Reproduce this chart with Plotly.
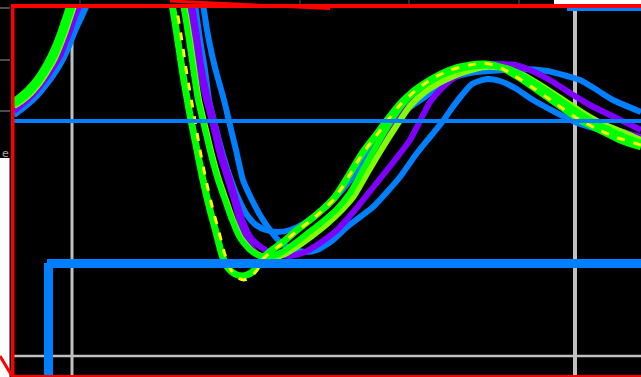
import plotly.graph_objects as go

# ---- series data (x in chart units, y in chart units; y axis runs downward) ----
green1_x = [13,20,28,36,44,50,56,61,65,69,73, 90,120,150,166,
            172,177,183,190,197,203,210,216,222,228,235,243,251,257,263,272,283,297,310,322,
            335,349,363,376,388,400,415,430,450,470,485,500,520,540,560,580,600,620,641]
green1_y = [102,97,90,81,69,58,45,32,20,8,-5, -80,-130,-80,-10,
            5,35,75,115,150,180,210,232,255,268,274,276,273,267,258,250,242,230,220,210,
            197,175,152,135,119,104,90,80,70,65,64,67,78,92,106,120,130,140,147]

yellow_x = [150,170, 176,181,187,194,200,206,213,219,225,231,238,244,251,257,263,272,283,297,310,322,
            335,349,363,376,388,400,415,430,450,470,483,497,515,535,555,575,595,615,641]
yellow_y = [-100,-20, 5,35,75,115,150,180,210,232,255,270,278,280,277,270,259,251,243,231,221,211,
            198,176,153,136,120,105,91,80,70,65,63,66,76,89,103,117,128,137,145]

green2_x = [13,22,30,38,46,53,59,64,68,72,76, 100,130,160,178,
            183,189,194,198,205,211,218,225,232,240,250,260,270,282,295,308,322,336,350,364,
            378,391,403,418,436,456,476,495,512,530,550,570,590,610,625,641]
green2_y = [105,99,92,83,71,59,45,32,20,8,-5, -90,-130,-80,-10,
            5,40,75,100,130,155,180,200,220,238,250,256,257,252,243,233,222,210,193,168,
            143,121,104,90,78,70,66,66,70,80,93,107,120,130,137,143]

lime_x = [14,23,31,39,47,54,60,65,69,73,77, 100,130,160,179,
          184,190,195,199,206,212,219,226,233,241,251,261,272,285,298,312,326,340,354,368,
          383,397,410,425,445,465,485,505,525,545,565,585,605,625,641]
lime_y = [106,100,93,84,72,60,46,33,21,9,-4, -90,-130,-80,-10,
          5,40,75,100,130,155,180,200,220,238,250,256,258,254,246,236,225,212,196,172,
          147,125,106,92,80,72,67,68,76,88,101,114,125,133,140]

purple1_x = [13,25,35,45,53,59,65,70,74,77,80, 110,140,170,186,
             190,194,199,205,212,220,228,234,240,247,255,263,272,283,297,312,326,340,354,368,
             382,395,405,420,440,460,480,500,520,540,560,580,600,620,641]
purple1_y = [110,100,90,77,65,55,40,27,15,8,-3, -100,-130,-90,-10,
             5,30,65,95,121,155,180,200,222,240,252,258,258,253,244,234,223,210,193,170,
             145,125,110,95,80,70,66,65,72,88,102,113,123,131,137]

purple2_x = [14,26,36,46,54,60,66,71,75,78,81, 110,140,170,188,
             192,196,201,207,214,222,230,236,243,251,262,275,290,305,320,337,355,375,395,410,
             420,430,442,457,475,495,515,530,550,570,590,610,625,641]
purple2_y = [111,101,91,78,66,56,41,28,16,9,-2, -100,-130,-90,-10,
             5,30,65,95,121,155,180,200,222,238,248,254,256,252,243,230,210,185,160,140,
             121,102,88,76,68,64,65,70,80,93,105,115,122,130]

blue1_x = [13,25,35,45,55,62,68,74,80,85,88, 120,150,180,192,
           195,200,205,209,215,223,231,239,247,256,266,278,290,303,318,333,348,362,376,390,
           400,413,425,440,455,470,490,520,547,567,580,597,613,641]
blue1_y = [114,105,96,84,70,58,45,30,17,6,-3, -100,-130,-90,-10,
           5,40,70,100,125,155,180,200,215,225,230,232,230,224,213,200,183,162,140,125,
           115,105,97,85,77,73,71,69,71,76,80,90,100,112]

blue2_x = [14,26,36,46,56,63,69,75,81,86,89, 120,150,180,198,
           203,207,212,217,224,229,236,243,252,260,270,280,292,305,317,333,347,360,373,387,
           400,417,430,443,452,462,472,487,500,515,533,555,575,600,620,641]
blue2_y = [115,106,97,85,71,59,46,31,18,7,-2, -100,-130,-90,-10,
           5,30,55,75,100,121,150,180,200,215,230,242,249,252,250,240,227,217,207,192,
           177,153,137,121,108,95,84,79,81,88,100,112,122,130,135,139]

GREEN = "#00ff00"
LIME = "#80ff00"
YELLOW = "#ffff00"
PURPLE = "#8000ff"
BLUE = "#0080ff"
RED = "#ff0000"
GRID = "#c0c0c0"

series = [
    (blue2_x, blue2_y, BLUE, 6, "solid"),
    (blue1_x, blue1_y, BLUE, 6, "solid"),
    (purple2_x, purple2_y, PURPLE, 6, "solid"),
    (purple1_x, purple1_y, PURPLE, 6, "solid"),
    (lime_x, lime_y, LIME, 6, "solid"),
    (green2_x, green2_y, GREEN, 6, "solid"),
    (green1_x, green1_y, GREEN, 7, "solid"),
    (yellow_x, yellow_y, YELLOW, 3, "8px,9px"),
]

fig = go.Figure()
for xs, ys, col, w, dash in series:
    fig.add_trace(go.Scatter(
        x=xs, y=ys, mode="lines",
        line=dict(color=col, width=w, shape="spline", smoothing=0.6, dash=dash),
        hoverinfo="skip", showlegend=False))

shapes = []
# grid lines (under the curves)
shapes.append(dict(type="line", x0=72, x1=72, y0=8, y1=377, line=dict(color=GRID, width=3), layer="below"))
shapes.append(dict(type="line", x0=575, x1=575, y0=8, y1=377, line=dict(color=GRID, width=4), layer="below"))
shapes.append(dict(type="line", x0=14, x1=641, y0=356, y1=356, line=dict(color=GRID, width=2.5), layer="below"))

# frame and decorations above the curves
shapes.append(dict(type="rect", x0=0, x1=641, y0=0, y1=4, fillcolor="black", line=dict(width=0)))
shapes.append(dict(type="rect", x0=554, x1=641, y0=0, y1=4, fillcolor="white", line=dict(width=0)))
for tx in [80, 300, 409, 519]:
    shapes.append(dict(type="line", x0=tx, x1=tx, y0=0, y1=4, line=dict(color="#555555", width=1)))
shapes.append(dict(type="rect", x0=0, x1=9.5, y0=158, y1=377, fillcolor="white", line=dict(width=0)))
for ty in [8, 60, 111]:
    shapes.append(dict(type="line", x0=0, x1=10, y0=ty, y1=ty, line=dict(color="#666666", width=1.5)))
shapes.append(dict(type="line", x0=14, x1=641, y0=121, y1=121, line=dict(color=BLUE, width=4)))
shapes.append(dict(type="rect", x0=47, x1=641, y0=259, y1=268, fillcolor=BLUE, line=dict(width=0)))
shapes.append(dict(type="rect", x0=44, x1=53, y0=263, y1=377, fillcolor=BLUE, line=dict(width=0)))
shapes.append(dict(type="rect", x0=567, x1=641, y0=8, y1=11, fillcolor=BLUE, line=dict(width=0)))
shapes.append(dict(type="rect", x0=11, x1=641, y0=4, y1=8, fillcolor=RED, line=dict(width=0)))
shapes.append(dict(type="rect", x0=11, x1=14.5, y0=4, y1=377, fillcolor=RED, line=dict(width=0)))
shapes.append(dict(type="rect", x0=11, x1=641, y0=375, y1=377, fillcolor=RED, line=dict(width=0)))
shapes.append(dict(type="line", x0=170, x1=330, y0=1, y1=8.5, line=dict(color=RED, width=3)))
shapes.append(dict(type="line", x0=0, x1=12, y0=356, y1=376, line=dict(color=RED, width=3)))

fig.update_layout(
    width=641, height=377,
    margin=dict(l=0, r=0, t=0, b=0),
    paper_bgcolor="black", plot_bgcolor="black",
    xaxis=dict(range=[0, 641], visible=False, fixedrange=True),
    yaxis=dict(range=[377, 0], visible=False, fixedrange=True),
    shapes=shapes,
    annotations=[dict(x=0, y=153, xref="x", yref="y", text="e", showarrow=False,
                      xanchor="left", yanchor="middle",
                      font=dict(family="DejaVu Sans", size=11, color="#aaaaaa"))],
)

fig.write_html("out.html")
